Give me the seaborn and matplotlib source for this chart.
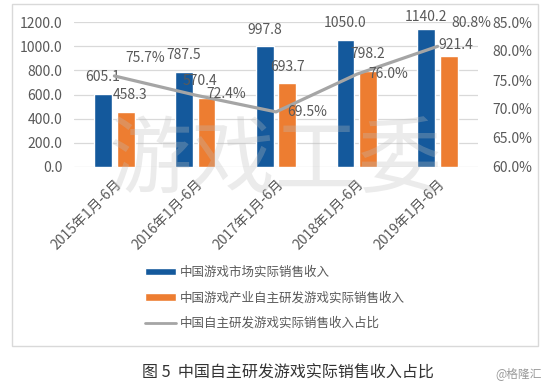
import numpy as np
import pandas as pd
import matplotlib
matplotlib.use("Agg")
import matplotlib.pyplot as plt
from matplotlib.patches import Rectangle
from matplotlib.lines import Line2D
import seaborn as sns

# ---- data ----
periods = ["2015年1月-6月", "2016年1月-6月", "2017年1月-6月", "2018年1月-6月", "2019年1月-6月"]
market_revenue = [605.1, 787.5, 997.8, 1050.0, 1140.2]
domestic_revenue = [458.3, 570.4, 693.7, 798.2, 921.4]
domestic_share = [75.7, 72.4, 69.5, 76.0, 80.8]
series_names = ["中国游戏市场实际销售收入", "中国游戏产业自主研发游戏实际销售收入", "中国自主研发游戏实际销售收入占比"]
left_ticks = [0, 200, 400, 600, 800, 1000, 1200]
right_ticks = [60, 65, 70, 75, 80, 85]

BLUE = "#14599C"
ORANGE = "#ED7D31"
GRAY = "#A5A5A5"
TXT = "#595959"

sns.set_theme(style="white")
plt.rcParams["font.family"] = ["Noto Sans CJK SC", "DejaVu Sans"]

df = pd.DataFrame({
    "period": periods * 2,
    "value": market_revenue + domestic_revenue,
    "series": [series_names[0]] * len(periods) + [series_names[1]] * len(periods),
})

fig = plt.figure(figsize=(5.54, 3.91), dpi=100)
fig.patch.set_facecolor("white")
W, H = 554, 391
ax = fig.add_axes([74 / W, 1 - 167 / H, (478 - 74) / W, (167 - 22) / H])

sns.barplot(data=df, x="period", y="value", hue="series", palette=[BLUE, ORANGE],
            width=0.56, gap=0.22, ax=ax, legend=False, saturation=1, zorder=2)
ax.set_ylim(0, 1200)
ax.set_yticks(left_ticks)
ax.set_yticklabels([f"{v:.1f}" for v in left_ticks], color=TXT, fontsize=10)
ax.set_xlim(-0.5, len(periods) - 0.5)
ax.set_xlabel("")
ax.set_ylabel("")
ax.grid(axis="y", color="#d9d9d9", lw=0.9, zorder=0)
ax.set_axisbelow(True)
for s in ax.spines.values():
    s.set_visible(False)
ax.tick_params(axis="both", length=0)
ax.tick_params(axis="y", pad=8.5)
ax.tick_params(axis="x", pad=7)
plt.setp(ax.get_xticklabels(), rotation=45, ha="right", rotation_mode="anchor",
         color=TXT, fontsize=10)

# bar labels
bar_offsets = [[(0, 12), (0, 12), (0, 12), (0, 12), (0, 9)],
               [(3, 12), (-5, 12), (0, 12), (0, 12), (5, 8)]]
for ci, cont in enumerate(ax.containers):
    vals = [market_revenue, domestic_revenue][ci]
    for bi, (bar, v) in enumerate(zip(cont, vals)):
        ax.annotate(f"{v:.1f}", (bar.get_x() + bar.get_width() / 2, bar.get_height()),
                    xytext=bar_offsets[ci][bi], textcoords="offset points",
                    ha="center", va="center", color=TXT, fontsize=10, zorder=5)

# secondary axis with line
ax2 = ax.twinx()
ax2.set_position(ax.get_position())
xpos = np.arange(len(periods))
sns.lineplot(x=xpos, y=domestic_share, ax=ax2, color=GRAY, lw=2.3, zorder=3)
ax2.set_ylim(60, 85)
ax2.set_yticks(right_ticks)
ax2.set_yticklabels([f"{v:.1f}%" for v in right_ticks], color=TXT, fontsize=10)
ax2.set_ylabel("")
for s in ax2.spines.values():
    s.set_visible(False)
ax2.tick_params(axis="y", length=0, pad=10)
ax2.grid(False)

pct_offsets = [(8, 13), (8, 1), (8, 0), (8, 0), (10, 17)]
for x, v, off in zip(xpos, domestic_share, pct_offsets):
    ax2.annotate(f"{v:.1f}%", (x, v), xytext=off, textcoords="offset points",
                 ha="left", va="center", color=TXT, fontsize=10, zorder=6)

# watermark
fig.text(0.497, 1 - 162 / H, "游戏工委", fontsize=60, color="#bdbdbd", alpha=0.3,
         fontweight="light", ha="center", va="center", zorder=10)

# legend
handles = [Rectangle((0, 0), 1, 1, facecolor=BLUE), Rectangle((0, 0), 1, 1, facecolor=ORANGE),
           Line2D([], [], color=GRAY, lw=2)]
fig.legend(handles, series_names, loc="upper left", bbox_to_anchor=(145 / W, 1 - 266 / H),
           frameon=False, fontsize=9, labelcolor=TXT, handlelength=2.5, handleheight=0.55,
           handletextpad=0.3, labelspacing=1.0, borderpad=0, borderaxespad=0)

# chart border
fig.add_artist(Rectangle((12 / W, 1 - 346 / H), (538 - 12) / W, (346 - 4) / H,
                         transform=fig.transFigure, fill=False, edgecolor="#d9d9d9", lw=1))

# caption
fig.text(288 / W, 1 - 373 / H, "图 5  中国自主研发游戏实际销售收入占比", fontsize=11.5,
         color="#333333", ha="center", va="center")
fig.text(519 / W, 1 - 374 / H, "@格隆汇", fontsize=8.5, color="#999999",
         ha="center", va="center")

fig.savefig("out.png", dpi=100)
